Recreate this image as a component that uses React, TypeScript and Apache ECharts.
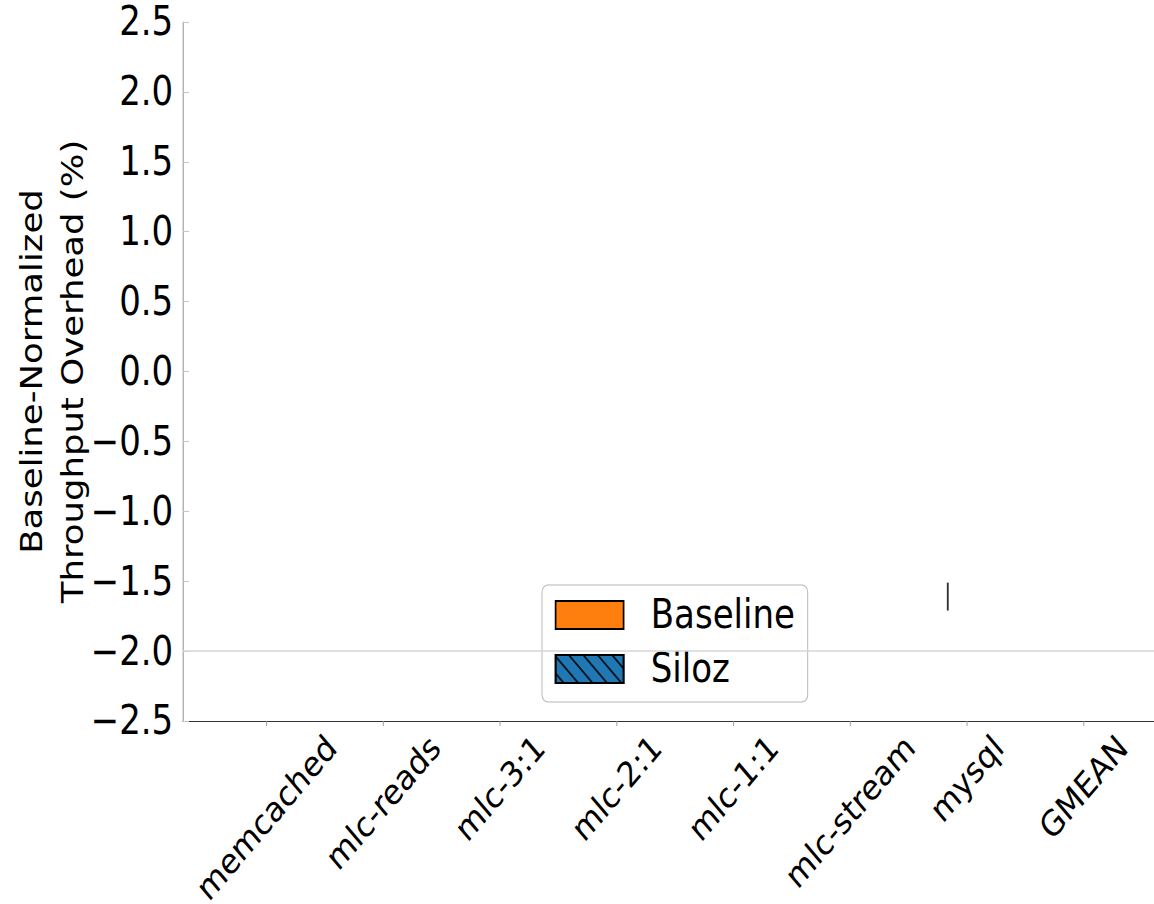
import React, { useEffect, useRef } from 'react';
import * as echarts from 'echarts';

// ---- data ----
const categories = ['memcached', 'mlc-reads', 'mlc-3:1', 'mlc-2:1', 'mlc-1:1', 'mlc-stream', 'mysql', 'GMEAN'];
// no bar is visible inside the plotted range
const baselineValues: (number | null)[] = [null, null, null, null, null, null, null, null];
const silozValues: (number | null)[] = [null, null, null, null, null, null, null, null];
// visible error bar (Baseline, mysql)
const errorBarIndex = [6];
const errorBarLow = [-1.71];
const errorBarHigh = [-1.51];
const yTickValues = [-2.5, -2.0, -1.5, -1.0, -0.5, 0.0, 0.5, 1.0, 1.5, 2.0, 2.5];
const referenceLine = -2.0;

// ---- style ----
// the reference figure is squeezed horizontally; the chart is drawn wider and scaled in x
const SX = 0.85;
const W = 1154 / SX;
const H = 904;
const FONT = '"DejaVu Sans", sans-serif';
const FS = 40;
const LABEL_FS = 35;
const TITLE_FS = 35.5;
const BASELINE_OFFSET = -0.165;
const X_MIN = -0.716;
const X_MAX = 7.604;

export default function App() {
  const ref = useRef<HTMLDivElement>(null);
  useEffect(() => {
    const chart = echarts.init(ref.current!, null, { renderer: 'svg' });
    const ctx = document.createElement('canvas').getContext('2d')!;
    ctx.font = `${LABEL_FS}px "DejaVu Sans"`;
    const widths = categories.map((c) => ctx.measureText(c).width);
    const yMin = yTickValues[0];
    const yMax = yTickValues[yTickValues.length - 1];

    const option: any = {
      animation: false,
      grid: { left: 183 / SX, top: 22, right: 0, bottom: 183, containLabel: false, outerBoundsMode: 'none' },
      xAxis: {
        type: 'value',
        min: X_MIN,
        max: X_MAX,
        axisLine: { show: true, onZero: false, lineStyle: { color: '#333', width: 1.2 } },
        axisTick: { show: false },
        axisLabel: { show: false },
        splitLine: { show: false },
      },
      yAxis: {
        type: 'value',
        min: yMin,
        max: yMax,
        interval: 0.5,
        name: 'Baseline-Normalized\nThroughput Overhead (%)',
        nameLocation: 'middle',
        nameGap: 106,
        nameMoveOverlap: false,
        nameTextStyle: { fontSize: TITLE_FS, fontFamily: FONT, color: '#000', lineHeight: 48 },
        axisLine: { show: true, onZero: false, lineStyle: { color: '#888', width: 1.1 } },
        axisTick: { show: true, inside: true, length: 7, lineStyle: { color: '#c8c8c8', width: 1.1 } },
        axisLabel: {
          fontSize: FS,
          fontFamily: FONT,
          color: '#000',
          margin: 11.5,
          formatter: (v: number) => (v < 0 ? '\u2212' + Math.abs(v).toFixed(1) : v.toFixed(1)),
        },
        splitLine: { show: false },
      },
      legend: {
        data: ['Baseline', 'Siloz'],
        orient: 'vertical',
        left: 542 / SX,
        top: 585,
        padding: [10, 15, 13, 15],
        itemGap: 14,
        itemWidth: 68 / SX,
        itemHeight: 28,
        icon: 'rect',
        backgroundColor: 'rgba(255,255,255,0.8)',
        borderColor: '#b5b5b5',
        borderWidth: 1.1,
        borderRadius: 7,
        textStyle: { fontSize: FS, lineHeight: 40, fontFamily: FONT, color: '#000', padding: [0, 0, 0, 27] },
      },
      series: [
        {
          name: 'Baseline',
          type: 'bar',
          barWidth: 44,
          data: baselineValues.map((v, i) => [i + BASELINE_OFFSET, v == null ? '-' : v]),
          itemStyle: { color: '#ff7f0e', borderColor: '#000', borderWidth: 1 },
        },
        {
          name: 'Siloz',
          type: 'bar',
          barWidth: 44,
          data: silozValues.map((v, i) => [i - BASELINE_OFFSET, v == null ? '-' : v]),
          itemStyle: {
            color: '#1f77b4',
            borderColor: '#000',
            borderWidth: 1,
            decal: {
              symbol: 'rect',
              symbolSize: 1,
              color: 'rgba(0,0,0,0.85)',
              dashArrayX: [1, 0],
              dashArrayY: [1.2, 10],
              rotation: Math.PI / 4,
            },
          },
        },
        {
          name: 'errorbars',
          type: 'custom',
          silent: true,
          data: errorBarIndex.map((idx, k) => [idx + BASELINE_OFFSET, errorBarLow[k], errorBarHigh[k]]),
          encode: { x: 0, y: [1, 2] },
          renderItem: (params: any, api: any) => {
            const x = api.value(0);
            const lo = api.coord([x, api.value(1)]);
            const hi = api.coord([x, api.value(2)]);
            return {
              type: 'line',
              shape: { x1: lo[0], y1: lo[1], x2: hi[0], y2: hi[1] },
              style: { stroke: '#333', lineWidth: 2.2 },
            };
          },
          markLine: {
            silent: true,
            symbol: 'none',
            label: { show: false },
            lineStyle: { color: '#d6d6d6', width: 1.5, type: 'solid' },
            data: [{ yAxis: referenceLine }],
          },
        },
        {
          name: 'xlabels',
          type: 'custom',
          silent: true,
          clip: false,
          data: categories.map((c, i) => [i, yMin]),
          renderItem: (params: any, api: any) => {
            const i = api.value(0);
            const p = api.coord([i, yMin]);
            const w = widths[i];
            const off = 7 + (w + LABEL_FS * 1.1) / (2 * Math.SQRT2);
            return {
              type: 'group',
              children: [
                {
                  type: 'line',
                  shape: { x1: p[0], y1: p[1], x2: p[0], y2: p[1] + 5 },
                  style: { stroke: '#999', lineWidth: 1.1 },
                },
                {
                  type: 'text',
                  x: p[0],
                  y: p[1] + off,
                  rotation: Math.PI / 4,
                  style: {
                    text: categories[i],
                    fill: '#000',
                    fontSize: LABEL_FS,
                    fontFamily: FONT,
                    align: 'center',
                    verticalAlign: 'middle',
                  },
                },
              ],
            };
          },
        },
      ],
    };
    chart.setOption(option);
    return () => chart.dispose();
  }, []);
  return (
    <div
      ref={ref}
      style={{
        position: 'fixed',
        left: 0,
        top: 0,
        width: W,
        height: H,
        background: '#fff',
        transform: `scaleX(${SX})`,
        transformOrigin: '0 0',
      }}
    />
  );
}
